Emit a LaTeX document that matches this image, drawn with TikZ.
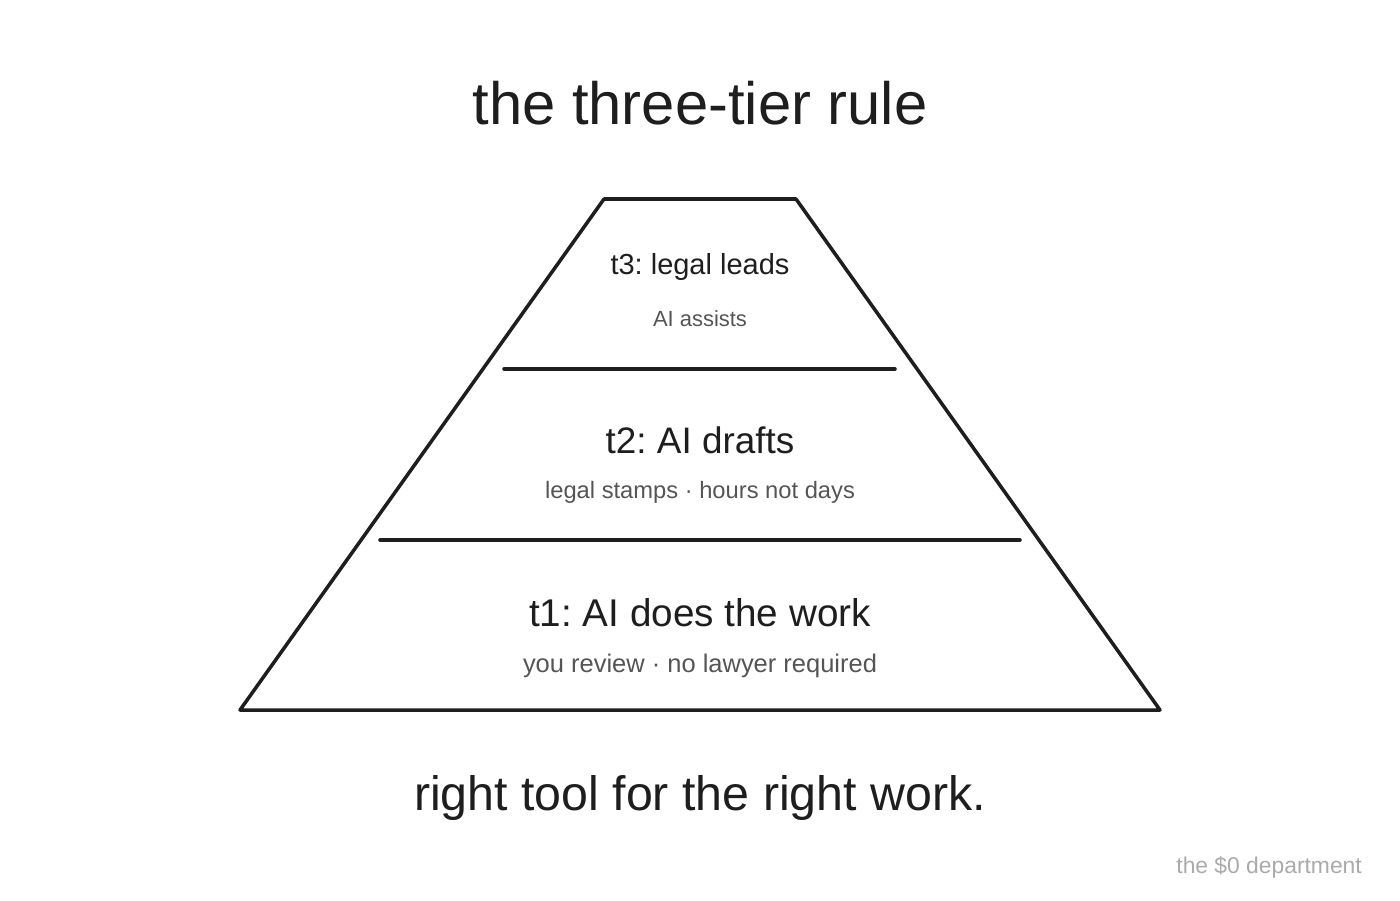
\documentclass[tikz,border=0pt]{standalone}
\usepackage{fontspec}
\setmainfont{Liberation Sans}
\frenchspacing
\definecolor{ink}{HTML}{1E1E1E}
\definecolor{soft}{HTML}{555555}
\definecolor{faint}{HTML}{AAAAAA}
\begin{document}
\begin{tikzpicture}[x=0.02cm, y=-0.02cm,
  pyr/.style={draw=ink, line width=2pt, line join=round, line cap=round},
  head/.style={text=ink, font=\fontsize{#1}{#1}\selectfont},
  sub/.style={text=soft, font=\fontsize{#1}{#1}\selectfont}]

\useasboundingbox (0,0) rectangle (1400,900);

% pyramid corners
\coordinate (base l) at (240,710);
\coordinate (base r) at (1160,710);
\coordinate (c1 l) at (380,540);
\coordinate (c1 r) at (1020,540);
\coordinate (c2 l) at (504,369);
\coordinate (c2 r) at (895,369);
\coordinate (top l) at (604,199);
\coordinate (top r) at (796,199);

\draw[pyr] (base l) -- (base r) -- (top r) -- (top l) -- cycle;
\draw[pyr] (c1 l) -- (c1 r);
\draw[pyr] (c2 l) -- (c2 r);

\node[head=34pt] (title) at (700,103) {the three-tier rule};

% tiers
\node[head=16.5pt] (t3) at (700,267) {t3: legal leads};
\node[sub=12.5pt] (t3 sub) at (700,319) {AI assists};
\node[head=21pt] (t2) at (700,440) {t2: AI drafts};
\node[sub=13.5pt] (t2 sub) at (700,492) {legal stamps · hours not days};
\node[head=22pt] (t1) at (700,613) {t1: AI does the work};
\node[sub=14.5pt] (t1 sub) at (700,666) {you review · no lawyer required};

\node[head=27.5pt] (motto) at (700,798) {right tool for the right work.};
\node[text=faint, font=\fontsize{13pt}{13pt}\selectfont, anchor=east] (dept) at (1368,867) {the \$0 department};

\end{tikzpicture}
\end{document}
